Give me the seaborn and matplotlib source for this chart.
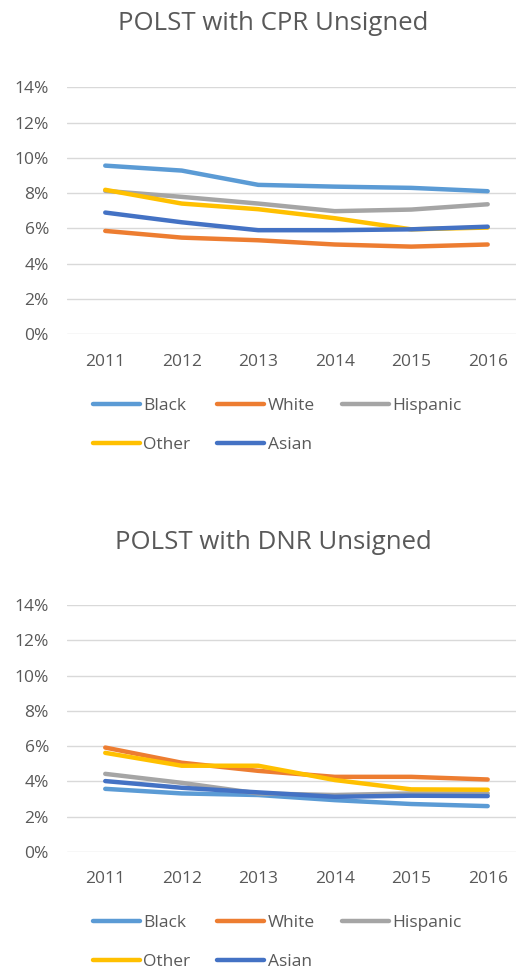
import numpy as np
import pandas as pd
import matplotlib.pyplot as plt
import seaborn as sns
from matplotlib.lines import Line2D
from matplotlib.ticker import PercentFormatter

# data (percent)
years = [2011, 2012, 2013, 2014, 2015, 2016]
groups = ['Black', 'White', 'Hispanic', 'Other', 'Asian']

cpr_black = [9.56, 9.28, 8.47, 8.37, 8.30, 8.11]
cpr_white = [5.86, 5.48, 5.33, 5.09, 4.97, 5.09]
cpr_hispanic = [8.13, 7.79, 7.41, 6.98, 7.07, 7.37]
cpr_other = [8.19, 7.41, 7.09, 6.58, 5.95, 6.05]
cpr_asian = [6.90, 6.35, 5.90, 5.90, 5.95, 6.10]

dnr_black = [3.58, 3.32, 3.23, 2.94, 2.72, 2.60]
dnr_white = [5.92, 5.06, 4.60, 4.26, 4.26, 4.11]
dnr_hispanic = [4.43, 3.92, 3.32, 3.23, 3.32, 3.32]
dnr_other = [5.62, 4.89, 4.89, 4.08, 3.55, 3.53]
dnr_asian = [4.02, 3.64, 3.38, 3.13, 3.19, 3.17]

colors = ['#5B9BD5', '#ED7D31', '#A5A5A5', '#FFC000', '#4472C4']
palette = dict(zip(groups, colors))


def long_df(series):
    rows = []
    for g, vals in zip(groups, series):
        for y, v in zip(years, vals):
            rows.append({'Year': y, 'Group': g, 'Pct': v})
    return pd.DataFrame(rows)


cpr = long_df([cpr_black, cpr_white, cpr_hispanic, cpr_other, cpr_asian])
dnr = long_df([dnr_black, dnr_white, dnr_hispanic, dnr_other, dnr_asian])

sns.set_style('white')
plt.rcParams['font.family'] = ['Open Sans', 'DejaVu Sans']
grey = '#595959'

W, H = 516, 971
fig = plt.figure(figsize=(W / 100, H / 100), dpi=100)

panels = [
    (cpr, 'POLST with CPR Unsigned', 334.3, 23, 398),
    (dnr, 'POLST with DNR Unsigned', 852.0, 542, 915),
]

for df, title, bottom_px, title_y, leg_y in panels:
    ax = fig.add_axes([67 / W, 1 - bottom_px / H, 449 / W, 247 / H])
    sns.lineplot(data=df, x='Year', y='Pct', hue='Group', hue_order=groups,
                 palette=palette, linewidth=3.2, legend=False, ax=ax,
                 solid_capstyle='round', solid_joinstyle='round')
    ax.set_ylim(0, 14)
    ax.set_yticks(np.arange(0, 15, 2))
    ax.yaxis.set_major_formatter(PercentFormatter(decimals=0))
    ax.set_xlim(2010.5, 2016.37)
    ax.set_xticks(years)
    ax.set_xlabel('')
    ax.set_ylabel('')
    ax.grid(axis='y', color='#D9D9D9', linewidth=1)
    ax.set_axisbelow(True)
    sns.despine(ax=ax, left=True, bottom=True)
    ax.tick_params(axis='both', length=0, labelsize=12.5, labelcolor=grey)
    ax.tick_params(axis='y', pad=13)
    ax.tick_params(axis='x', pad=14)

    fig.text(273 / W, 1 - title_y / H, title, ha='center', va='center',
             fontsize=18.5, color=grey)

    # legend laid out row-wise like the original
    order = ['Black', 'Other', 'White', 'Asian', 'Hispanic']
    handles = [Line2D([], [], color=palette[g], linewidth=3.2,
                      solid_capstyle='round') for g in order]
    fig.legend(handles, order, loc='upper left',
               bbox_to_anchor=(93 / W, 1 - leg_y / H), ncol=3, frameon=False,
               fontsize=12.5, labelcolor=grey, handlelength=2.7,
               handletextpad=0.2, columnspacing=1.55, labelspacing=1.3,
               borderpad=0, borderaxespad=0)

fig.savefig('out.png', dpi=100)
